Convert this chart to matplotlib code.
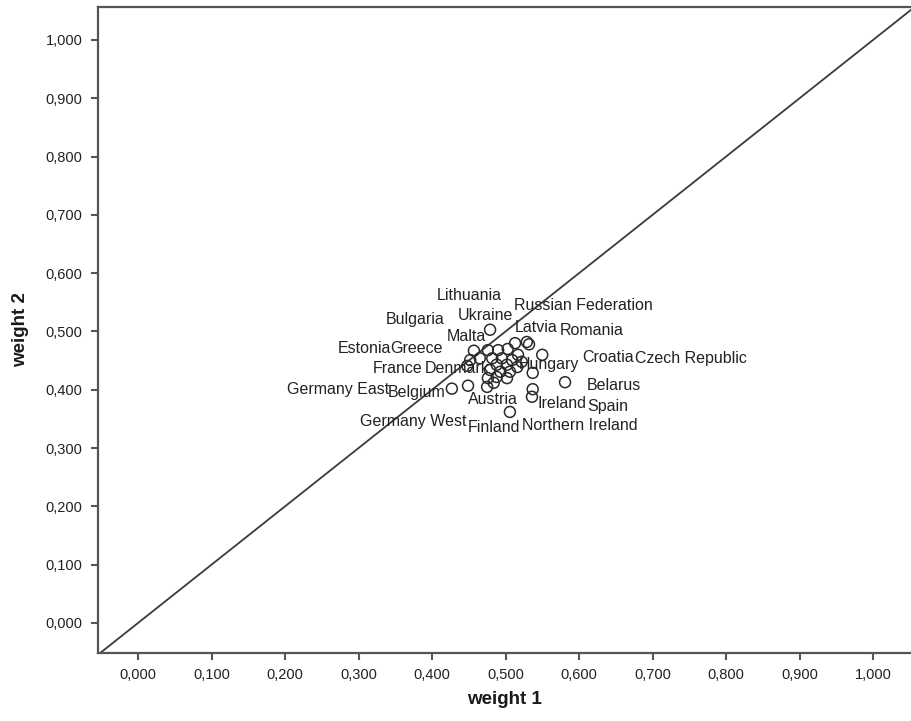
import matplotlib
matplotlib.use("Agg")
import matplotlib.pyplot as plt

plt.rcParams['font.family'] = ['Liberation Sans', 'DejaVu Sans']

# ---- data ----
countries = ["Ukraine", "Russian Federation", "Latvia", "Romania", "Malta", "Lithuania",
             None, None, None, "Croatia", "Estonia", "Greece", "Bulgaria", None, None,
             "Hungary", "France", None, None, None, "Denmark", None, None, "Czech Republic",
             None, None, "Northern Ireland", "Austria", "Germany West", "Germany East",
             "Belgium", "Belarus", "Spain", "Ireland", "Finland"]
weight1 = [0.479, 0.513, 0.529, 0.532, 0.457, 0.476,
           0.490, 0.503, 0.517, 0.550, 0.452, 0.465, 0.482, 0.495, 0.509,
           0.522, 0.448, 0.488, 0.502, 0.516, 0.479, 0.493, 0.506, 0.537,
           0.476, 0.488, 0.502, 0.475, 0.484, 0.449,
           0.427, 0.581, 0.537, 0.536, 0.506]
weight2 = [0.503, 0.480, 0.482, 0.478, 0.467, 0.468,
           0.468, 0.470, 0.460, 0.460, 0.451, 0.454, 0.454, 0.454, 0.451,
           0.448, 0.441, 0.443, 0.443, 0.439, 0.434, 0.431, 0.431, 0.429,
           0.420, 0.422, 0.420, 0.405, 0.412, 0.407,
           0.402, 0.413, 0.401, 0.388, 0.362]

tick_values = [0.0, 0.1, 0.2, 0.3, 0.4, 0.5, 0.6, 0.7, 0.8, 0.9, 1.0]
tick_labels = ["0,000", "0,100", "0,200", "0,300", "0,400", "0,500",
               "0,600", "0,700", "0,800", "0,900", "1,000"]

# ---- layout: label placement (left edge, vertical centre) in data units ----
label_pos = {
    "Lithuania": (0.407, 0.561), "Russian Federation": (0.512, 0.545),
    "Bulgaria": (0.337, 0.520), "Ukraine": (0.435, 0.527),
    "Malta": (0.420, 0.491), "Latvia": (0.512, 0.506),
    "Romania": (0.574, 0.501), "Estonia": (0.272, 0.470),
    "Greece": (0.343, 0.470), "Croatia": (0.605, 0.456),
    "Czech Republic": (0.676, 0.453), "France": (0.320, 0.436),
    "Denmark": (0.390, 0.437), "Hungary": (0.518, 0.443),
    "Germany East": (0.203, 0.401), "Belgium": (0.340, 0.396),
    "Belarus": (0.610, 0.408), "Austria": (0.449, 0.383),
    "Ireland": (0.543, 0.377), "Spain": (0.611, 0.372),
    "Germany West": (0.302, 0.346), "Finland": (0.449, 0.336),
    "Northern Ireland": (0.522, 0.338),
}

fig = plt.figure(figsize=(9.11, 7.21), dpi=100)
ax = fig.add_axes([0.1076, 0.0943, 0.8924, 0.896])
xlim = (-0.0544, 1.0517)
ylim = (-0.0515, 1.0566)
ax.set_xlim(*xlim)
ax.set_ylim(*ylim)

# reference line y = x
lo, hi = min(xlim[0], ylim[0]), max(xlim[1], ylim[1])
ax.plot([lo, hi], [lo, hi], color="#3a3a3a", lw=1.3, zorder=1, clip_on=True)

ax.scatter(weight1, weight2, s=62, facecolors="none", edgecolors="#2a2a2a",
           linewidths=1.1, zorder=3)

for name in countries:
    if name is None:
        continue
    lx, ly = label_pos[name]
    ax.text(lx, ly, name, ha="left", va="center", fontsize=11.5,
            color="#222222", zorder=4)

ax.set_xticks(tick_values)
ax.set_xticklabels(tick_labels)
ax.set_yticks(tick_values)
ax.set_yticklabels(tick_labels)
ax.tick_params(direction="out", length=5, width=1.5, color="#555555",
               labelsize=10.5, labelcolor="#222222", pad=6)

for side in ["left", "bottom", "top"]:
    ax.spines[side].set_color("#555555")
    ax.spines[side].set_linewidth(1.6)
ax.spines["right"].set_visible(False)

ax.set_xlabel("weight 1", fontsize=13.5, fontweight="bold", color="#1a1a1a", labelpad=6)
ax.set_ylabel("weight 2", fontsize=13.5, fontweight="bold", color="#1a1a1a", labelpad=12)

fig.savefig("out.png", dpi=100)
